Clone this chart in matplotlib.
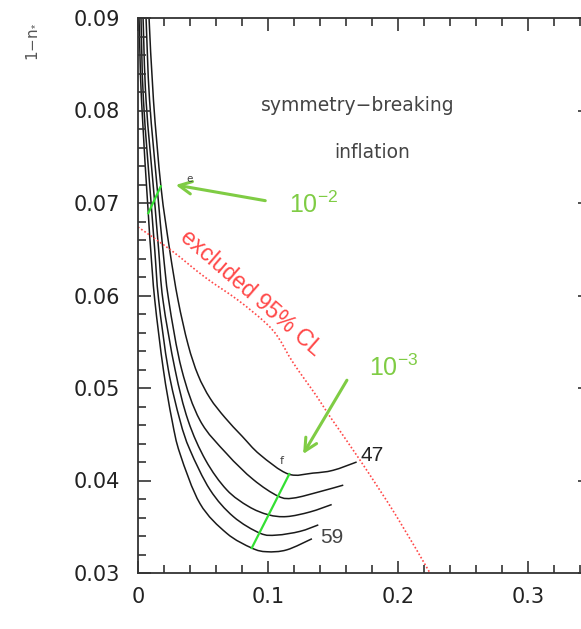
import matplotlib
matplotlib.use("Agg")
import matplotlib.pyplot as plt
from matplotlib.path import Path
from matplotlib.patches import PathPatch
from matplotlib.ticker import MultipleLocator, FixedLocator, FixedFormatter

# ---------------- data ----------------
c47_x = [0.0085, 0.0119, 0.0177, 0.0244, 0.0308, 0.0385, 0.0462, 0.0554, 0.0669, 0.0800, 0.0938, 0.1156, 0.1346, 0.1500, 0.1682]
c47_y = [0.0900, 0.0811, 0.0717, 0.0649, 0.0595, 0.0547, 0.0514, 0.0489, 0.0468, 0.0448, 0.0428, 0.0407, 0.0408, 0.0411, 0.0420]

c50_x = [0.0062, 0.0089, 0.0151, 0.0192, 0.0236, 0.0336, 0.0477, 0.0682, 0.0887, 0.1079, 0.1195, 0.1400, 0.1579]
c50_y = [0.0900, 0.0811, 0.0711, 0.0649, 0.0595, 0.0520, 0.0465, 0.0429, 0.0401, 0.0383, 0.0381, 0.0388, 0.0395]

c53_x = [0.0039, 0.0062, 0.0127, 0.0159, 0.0192, 0.0285, 0.0385, 0.0520, 0.0682, 0.0850, 0.1002, 0.1144, 0.1323, 0.1490]
c53_y = [0.0900, 0.0811, 0.0703, 0.0649, 0.0595, 0.0520, 0.0465, 0.0422, 0.0390, 0.0372, 0.0363, 0.0361, 0.0366, 0.0374]

c56_x = [0.0023, 0.0042, 0.0103, 0.0129, 0.0159, 0.0233, 0.0323, 0.0400, 0.0554, 0.0733, 0.0939, 0.1067, 0.1246, 0.1387]
c56_y = [0.0900, 0.0811, 0.0696, 0.0649, 0.0595, 0.0520, 0.0465, 0.0433, 0.0390, 0.0361, 0.0343, 0.0341, 0.0345, 0.0352]

c59_x = [0.0008, 0.0027, 0.0079, 0.0098, 0.0129, 0.0195, 0.0262, 0.0323, 0.0477, 0.0682, 0.0875, 0.0990, 0.1144, 0.1338]
c59_y = [0.0900, 0.0811, 0.0689, 0.0649, 0.0595, 0.0520, 0.0465, 0.0429, 0.0375, 0.0343, 0.0327, 0.0323, 0.0325, 0.0337]

curves_x = [c47_x, c50_x, c53_x, c56_x, c59_x]
curves_y = [c47_y, c50_y, c53_y, c56_y, c59_y]

excl_x = [0.0, 0.0254, 0.0513, 0.0769, 0.0977, 0.1077, 0.1195, 0.1375, 0.1477, 0.1708, 0.1990, 0.2246]
excl_y = [0.0674, 0.0649, 0.0620, 0.0595, 0.0571, 0.0555, 0.0527, 0.0491, 0.0469, 0.0422, 0.0361, 0.0300]

g2_x = [0.0079, 0.0175]
g2_y = [0.0689, 0.0718]
g3_x = [0.0875, 0.1164]
g3_y = [0.0327, 0.0407]

arrow2_tail = (0.1000, 0.0702)
arrow2_tip = (0.0269, 0.0720)
arrow3_tail = (0.1618, 0.0511)
arrow3_tip = (0.1259, 0.0426)

xticks = [0.0, 0.1, 0.2, 0.3]
xticklabels = ["0", "0.1", "0.2", "0.3"]
yticks = [0.03, 0.04, 0.05, 0.06, 0.07, 0.08, 0.09]
yticklabels = ["0.03", "0.04", "0.05", "0.06", "0.07", "0.08", "0.09"]


def smooth_path(xs, ys):
    """Catmull-Rom spline through the read points, as a cubic Bezier Path."""
    pts = list(zip(xs, ys))
    n = len(pts)
    verts = [pts[0]]
    codes = [Path.MOVETO]
    for i in range(n - 1):
        p0 = pts[i - 1] if i > 0 else pts[i]
        p1 = pts[i]
        p2 = pts[i + 1]
        p3 = pts[i + 2] if i + 2 < n else pts[i + 1]
        c1 = (p1[0] + (p2[0] - p0[0]) / 6, p1[1] + (p2[1] - p0[1]) / 6)
        c2 = (p2[0] - (p3[0] - p1[0]) / 6, p2[1] - (p3[1] - p1[1]) / 6)
        verts += [c1, c2, p2]
        codes += [Path.CURVE4] * 3
    return Path(verts, codes)


# ---------------- figure ----------------
plt.rcParams["font.family"] = ["DejaVu Sans"]
plt.rcParams["mathtext.fontset"] = "custom"
plt.rcParams["mathtext.rm"] = "Liberation Sans"
plt.rcParams["mathtext.it"] = "Liberation Sans:italic"

W, H = 581, 629
fig = plt.figure(figsize=(W / 100, H / 100), dpi=100)
left, right_px, top, bottom = 138, 590, 18, 573
ax = fig.add_axes([left / W, (H - bottom) / H, (right_px - left) / W, (bottom - top) / H])

ax.set_xlim(0, 0.3477)
ax.set_ylim(0.03, 0.09)

dark = "#222222"
for cx, cy in zip(curves_x, curves_y):
    ax.add_patch(PathPatch(smooth_path(cx, cy), fill=False, edgecolor="#1a1a1a", lw=1.1))

ax.add_patch(PathPatch(smooth_path(excl_x, excl_y), fill=False, edgecolor="#ff4848", lw=1.2,
                       linestyle=(0, (1, 1.3))))

ax.plot(g2_x, g2_y, color="#33e033", lw=1.6)
ax.plot(g3_x, g3_y, color="#33e033", lw=1.6)

arrow_c = "#7fcc44"
ax.annotate("", xy=arrow2_tip, xytext=arrow2_tail,
            arrowprops=dict(arrowstyle="->,head_length=0.9,head_width=0.45", color=arrow_c, lw=2.2))
ax.annotate("", xy=arrow3_tip, xytext=arrow3_tail,
            arrowprops=dict(arrowstyle="->,head_length=0.9,head_width=0.45", color=arrow_c, lw=2.2))

ax.text(0.1347, 0.0698, r"$10^{-2}$", color=arrow_c, fontsize=18, ha="center", va="center")
ax.text(0.1963, 0.0522, r"$10^{-3}$", color=arrow_c, fontsize=18, ha="center", va="center")

ax.text(0.0394, 0.0726, "e", color="#444444", fontsize=7.5, ha="center", va="center")
ax.text(0.1105, 0.0421, "f", color="#444444", fontsize=8, ha="center", va="center")

ax.text(0.1804, 0.0427, "47", color=dark, fontsize=15, ha="center", va="center", family="Liberation Sans")
ax.text(0.1492, 0.0338, "59", color="#444444", fontsize=15, ha="center", va="center", family="Liberation Sans")

ax.text(0.0869, 0.0603, "excluded 95% CL", color="#ff4848", fontsize=16.5, rotation=-41,
        rotation_mode="anchor", ha="center", va="center", family="Liberation Sans")

ax.text(0.1692, 0.0805, "symmetry\u2212breaking", color="#444444", fontsize=13.5, ha="center", va="center")
ax.text(0.1800, 0.0755, "inflation", color="#444444", fontsize=13.5, ha="center", va="center")

# ---------------- axes styling ----------------
ax.xaxis.set_major_locator(FixedLocator(xticks))
ax.xaxis.set_major_formatter(FixedFormatter(xticklabels))
ax.xaxis.set_minor_locator(MultipleLocator(0.02))
ax.yaxis.set_major_locator(FixedLocator(yticks))
ax.yaxis.set_major_formatter(FixedFormatter(yticklabels))
ax.yaxis.set_minor_locator(MultipleLocator(0.002))

ax.spines["right"].set_visible(False)
for s in ["left", "bottom", "top"]:
    ax.spines[s].set_linewidth(1.3)
    ax.spines[s].set_color("#333333")

ax.tick_params(which="both", direction="in", top=True, right=True, color="#333333", width=1.2)
ax.tick_params(which="major", length=9)
ax.tick_params(which="minor", length=5.5)
ax.tick_params(which="minor", right=False)
ax.tick_params(axis="x", which="major", pad=10, labelsize=15, labelcolor=dark)
ax.tick_params(axis="y", which="major", pad=13, labelsize=15, labelcolor=dark)

fig.text(31 / W, 1 - 42 / H, "1\u2212n$_{*}$", rotation=90, fontsize=11, color="#555555",
         ha="center", va="center")

fig.savefig("out.png", dpi=100)
